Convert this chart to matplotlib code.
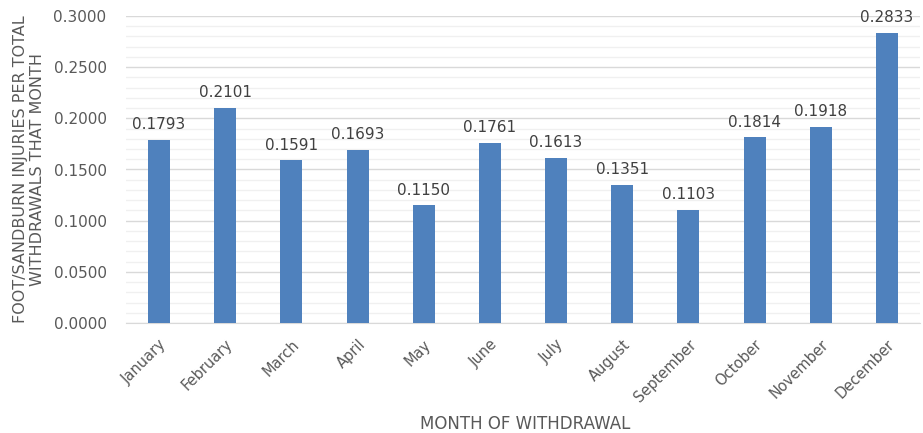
import matplotlib.pyplot as plt
import numpy as np
from matplotlib.ticker import MultipleLocator

months = ["January", "February", "March", "April", "May", "June", "July",
          "August", "September", "October", "November", "December"]
rates = [0.1793, 0.2101, 0.1591, 0.1693, 0.1150, 0.1761, 0.1613,
         0.1351, 0.1103, 0.1814, 0.1918, 0.2833]

grey = "#595959"
fig = plt.figure(figsize=(9.23, 4.33), dpi=100)
ax = fig.add_axes([126/923, 1 - 323/433, 794/923, 307/433])

x = np.arange(len(months))
bars = ax.bar(x, rates, width=0.33, color="#4F81BD", zorder=3)
for b, v in zip(bars, rates):
    ax.text(b.get_x() + b.get_width()/2, v + 0.0075, f"{v:.4f}",
            ha="center", va="bottom", fontsize=11, color="#404040")

ax.set_xlim(-0.5, len(months) - 0.5)
ax.set_ylim(0, 0.3)
ax.yaxis.set_major_locator(MultipleLocator(0.05))
ax.yaxis.set_minor_locator(MultipleLocator(0.01))
ax.yaxis.set_major_formatter(plt.FuncFormatter(lambda v, p: f"{v:.4f}"))
ax.grid(axis="y", which="major", color="#D9D9D9", lw=1, zorder=0)
ax.grid(axis="y", which="minor", color="#F0F0F0", lw=1, zorder=0)
for s in ["top", "right", "left"]:
    ax.spines[s].set_visible(False)
ax.spines["bottom"].set_color("#D9D9D9")
ax.tick_params(axis="both", which="both", length=0, colors=grey, labelsize=11)
ax.tick_params(axis="y", pad=14)
ax.tick_params(axis="x", pad=10, labelsize=10.5)
ax.set_xticks(x)
ax.set_xticklabels(months, rotation=45, ha="right", rotation_mode="anchor")

fig.text(525/923, 1 - 424/433, "MONTH OF WITHDRAWAL", fontsize=12,
         color=grey, ha="center", va="center")
ax.set_ylabel("FOOT/SANDBURN INJURIES PER TOTAL\nWITHDRAWALS THAT MONTH",
              fontsize=11.5, color=grey, labelpad=6)

fig.savefig("out.png", dpi=100)
